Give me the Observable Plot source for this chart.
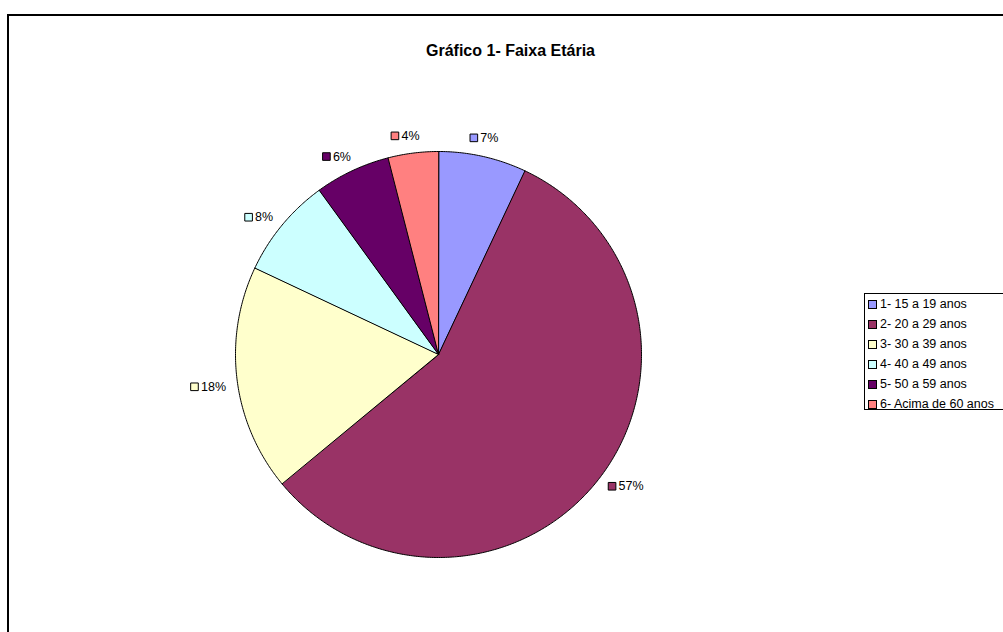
<!DOCTYPE html>
<html>
<head>
<meta charset="utf-8">
<script src="https://cdn.jsdelivr.net/npm/d3@7"></script>
<script src="https://cdn.jsdelivr.net/npm/@observablehq/plot@0.6"></script>
<style>
  html, body { margin: 0; padding: 0; background: #fff; }
  #wrap { position: relative; width: 1003px; height: 632px; overflow: hidden; font-family: "Liberation Sans", Arial, sans-serif; }
  #frame { position: absolute; left: 7px; top: 14px; width: 1010px; height: 640px; border: 2px solid #000; box-sizing: border-box; }
  #title { position: absolute; left: 0; width: 1021px; top: 43px; text-align: center; font-weight: bold; font-size: 16px; line-height: 16px; color: #000; }
  #chart { position: absolute; left: 0; top: 0; }
  #legend { position: absolute; left: 864px; top: 293px; width: 150px; height: 117px; border: 1px solid #000; box-sizing: border-box; background: #fff; }
  .row { position: absolute; left: 2px; height: 20px; line-height: 20px; font-size: 12.5px; color: #000; white-space: nowrap; }
  .sw { position: absolute; left: 1px; top: 6px; width: 7px; height: 7px; border: 1px solid #000; }
  .lt { position: absolute; left: 13px; top: 0; }
</style>
</head>
<body>
<div id="wrap">
  <div id="frame"></div>
  <div id="title">Gráfico 1- Faixa Etária</div>
  <div id="chart"></div>
  <div id="legend"></div>
</div>
<script>
// ---- data ----
const categories = ["1- 15 a 19 anos", "2- 20 a 29 anos", "3- 30 a 39 anos", "4- 40 a 49 anos", "5- 50 a 59 anos", "6- Acima de 60 anos"];
const values = [7, 57, 18, 8, 6, 4];
const valueLabels = ["7%", "57%", "18%", "8%", "6%", "4%"];
const palette = ["#9999FF", "#993366", "#FFFFCC", "#CCFFFF", "#660066", "#FF8080"];

// ---- layout ----
const W = 1003, H = 632;
const cx = 438, cy = 354, R = 203;
const labelFont = 12.5;
const labelShift = -1.2 * Math.PI / 180;

const arcs = d3.pie().sort(null).value(d => d)(values);

// slice polygons (unit circle coordinates)
const slicePts = [];
arcs.forEach((a, i) => {
  slicePts.push({cat: categories[i], x: 0, y: 0});
  const n = Math.max(2, Math.ceil((a.endAngle - a.startAngle) / (Math.PI / 360)));
  for (let k = 0; k <= n; k++) {
    const t = a.startAngle + (a.endAngle - a.startAngle) * k / n;
    slicePts.push({cat: categories[i], x: Math.sin(t), y: Math.cos(t)});
  }
});

// label positions
const ctx = document.createElement("canvas").getContext("2d");
ctx.font = `${labelFont}px "Liberation Sans", Arial`;
const labelRows = arcs.map((a, i) => {
  const m = (a.startAngle + a.endAngle) / 2 + labelShift;
  const s = Math.sin(m), c = Math.cos(m);
  const tw = ctx.measureText(valueLabels[i]).width;
  const w = 11 + tw, h = 12;
  const px = s * (R + 12) + s * w / 2;
  const py = -c * (R + 12) - c * h / 2;
  const left = px - w / 2;
  return {
    cat: categories[i],
    text: valueLabels[i],
    sx: (left + 4.5) / R,
    tx: (left + 11) / R,
    y: -py / R
  };
});

const plot = Plot.plot({
  width: W,
  height: H,
  marginLeft: cx - R,
  marginRight: W - (cx + R),
  marginTop: cy - R,
  marginBottom: H - (cy + R),
  x: {domain: [-1, 1], axis: null},
  y: {domain: [-1, 1], axis: null},
  color: {domain: categories, range: palette},
  style: {background: "transparent", fontFamily: '"Liberation Sans", Arial, sans-serif', fontSize: labelFont + "px", color: "#000"},
  marks: [
    Plot.line(slicePts, {x: "x", y: "y", z: "cat", fill: "cat", stroke: "#000", strokeWidth: 1, curve: "linear-closed", strokeLinejoin: "miter"}),
    Plot.dot(labelRows, {x: "sx", y: "y", symbol: "square", r: 4.3, fill: "cat", stroke: "#000", strokeWidth: 1}),
    Plot.text(labelRows, {x: "tx", y: "y", text: "text", textAnchor: "start", fill: "#000", fontSize: labelFont})
  ]
});
document.getElementById("chart").appendChild(plot);

// legend
const leg = document.getElementById("legend");
categories.forEach((c, i) => {
  const row = document.createElement("div");
  row.className = "row";
  row.style.top = (20 * i) + "px";
  const sw = document.createElement("div");
  sw.className = "sw";
  sw.style.background = palette[i];
  const t = document.createElement("span");
  t.className = "lt";
  t.textContent = c;
  row.appendChild(sw);
  row.appendChild(t);
  leg.appendChild(row);
});
</script>
</body>
</html>
